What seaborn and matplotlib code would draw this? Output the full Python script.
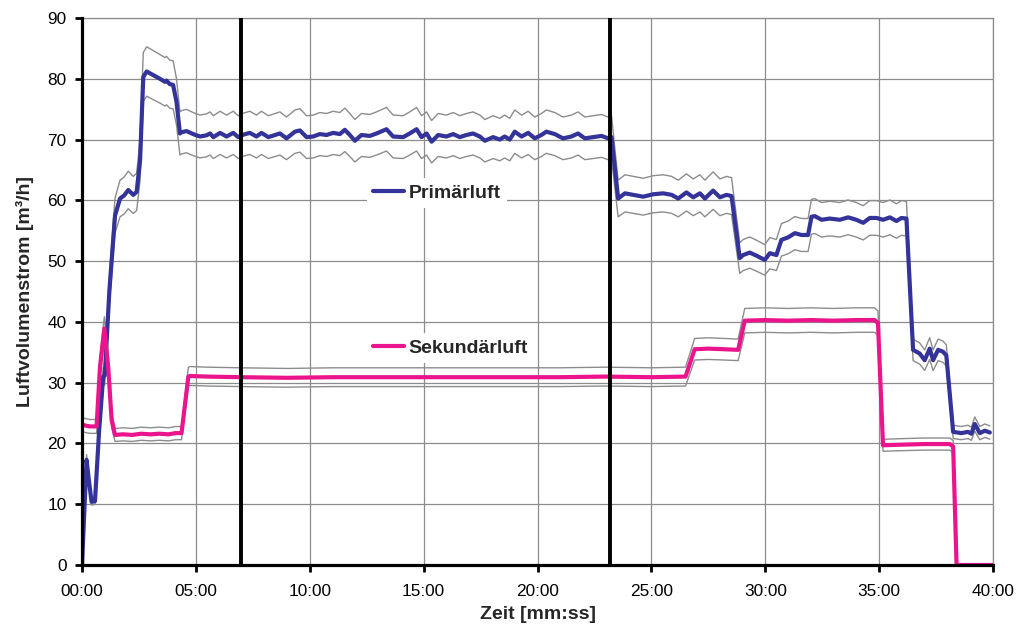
import matplotlib
matplotlib.use('Agg')
import matplotlib.pyplot as plt
import seaborn as sns
import pandas as pd

# ---------------- data (minutes, m³/h) ----------------
prim_t = [0.0, 0.2, 0.3, 0.42, 0.57, 0.75, 0.93, 1.0, 1.2, 1.45, 1.67, 1.85, 2.03, 2.25, 2.4, 2.55,
          2.69, 2.84, 3.13, 3.42, 3.64, 3.71, 3.86, 4.0, 4.15, 4.3, 4.37, 4.59, 4.88, 5.18, 5.47,
          5.62, 5.77, 6.06, 6.35, 6.64, 6.86, 7.08, 7.37, 7.66, 7.88, 8.18, 8.69, 8.98, 9.35, 9.57,
          9.86, 10.15, 10.44, 10.74, 11.03, 11.32, 11.54, 11.76, 11.98, 12.27, 12.64, 12.93, 13.37,
          13.66, 14.1, 14.39, 14.69, 14.91, 15.13, 15.35, 15.64, 16.0, 16.3, 16.59, 16.88, 17.17,
          17.47, 17.69, 18.05, 18.34, 18.56, 18.78, 19.0, 19.3, 19.59, 19.88, 20.17, 20.39, 20.76,
          21.12, 21.49, 21.78, 22.08, 22.44, 22.81, 23.1, 23.25, 23.54, 23.84, 24.2, 24.64, 25.08,
          25.52, 25.89, 26.18, 26.54, 26.84, 27.13, 27.35, 27.71, 28.01, 28.3, 28.52, 28.88, 29.03,
          29.32, 29.61, 29.98, 30.2, 30.49, 30.71, 31.0, 31.3, 31.59, 31.88, 32.03, 32.18, 32.47,
          32.83, 33.27, 33.64, 34.0, 34.3, 34.59, 34.88, 35.18, 35.47, 35.76, 35.98, 36.2, 36.49,
          36.78, 37.0, 37.22, 37.37, 37.59, 37.8, 37.95, 38.25, 38.61, 38.9, 39.05, 39.2, 39.42,
          39.64, 39.86]
prim_v = [0.0, 17.3, 14.0, 10.4, 10.5, 22.0, 31.0, 31.2, 45.0, 57.5, 60.3, 60.8, 61.7, 60.9, 61.4, 66.6,
          80.3, 81.2, 80.6, 80.0, 79.5, 79.7, 79.1, 79.0, 76.2, 71.0, 71.2, 71.4, 70.9, 70.5, 70.7,
          71.0, 70.4, 71.1, 70.5, 71.1, 70.4, 70.8, 71.1, 70.5, 71.1, 70.4, 71.0, 70.2, 71.3, 71.5,
          70.4, 70.5, 70.9, 70.75, 71.1, 70.9, 71.6, 70.75, 69.8, 70.75, 70.6, 71.0, 71.7,
          70.5, 70.4, 71.0, 71.7, 70.4, 71.0, 69.65, 70.75, 70.5, 70.9, 70.4, 70.75, 71.0,
          70.5, 69.8, 70.4, 70.0, 70.5, 70.0, 71.3, 70.5, 71.1, 70.2, 70.75, 71.3, 70.9,
          70.2, 70.5, 71.0, 70.2, 70.4, 70.6, 70.2, 70.4, 60.3, 61.15, 60.9, 60.6, 61.0,
          61.15, 60.9, 60.3, 61.3, 60.5, 61.15, 60.3, 61.6, 60.5, 60.9, 60.7, 50.5, 51.0,
          51.4, 50.9, 50.2, 51.3, 51.0, 53.5, 53.9, 54.6, 54.3, 54.3, 57.3, 57.4, 56.8,
          57.0, 56.8, 57.2, 56.8, 56.3, 57.1, 57.1, 56.8, 57.2, 56.6, 57.1, 57.0, 35.4,
          34.8, 33.7, 35.6, 33.7, 35.4, 35.1, 34.5, 21.9, 21.7, 21.9, 21.6, 23.2, 21.7,
          22.1, 21.8]

sek_t = [0.0, 0.2, 0.35, 0.64, 0.79, 0.98, 1.15, 1.3, 1.45, 1.8, 2.2, 2.6, 3.0, 3.4, 3.8, 4.1, 4.37,
         4.67, 4.74, 5.5, 7.0, 9.0, 11.0, 13.0, 15.0, 17.0, 19.0, 21.0, 23.0, 25.0, 26.5, 26.9,
         27.5, 28.2, 28.81, 29.1, 30.0, 31.0, 32.0, 33.0, 34.0, 34.8, 34.95, 35.17, 36.0, 37.0,
         38.1, 38.25, 38.4, 40.0]
sek_v = [23.1, 22.9, 22.8, 22.8, 32.6, 38.9, 32.6, 23.9, 21.4, 21.5, 21.4, 21.6, 21.5, 21.6, 21.5, 21.7, 21.7,
         31.0, 31.1, 31.0, 30.9, 30.8, 30.9, 30.9, 30.9, 30.9, 30.9, 30.9, 31.0, 30.9, 31.0, 35.5,
         35.6, 35.5, 35.4, 40.2, 40.3, 40.2, 40.3, 40.2, 40.3, 40.3, 39.8, 19.7, 19.8, 19.9,
         19.9, 19.5, 0.0, 0.0]

band_tol = 0.05            # tolerance band (± 5 %)
marker_times = [7.0, 23.2]  # vertical markers
x_ticks = [0, 5, 10, 15, 20, 25, 30, 35, 40]
x_tick_labels = ['00:00', '05:00', '10:00', '15:00', '20:00', '25:00', '30:00', '35:00', '40:00']
y_ticks = [0, 10, 20, 30, 40, 50, 60, 70, 80, 90]
series_names = ['Primärluft', 'Sekundärluft']

# ---------------- style ----------------
sns.set_style('white')
plt.rcParams['font.family'] = ['Liberation Sans', 'DejaVu Sans']

W, H = 1016, 633
fig = plt.figure(figsize=(W / 100, H / 100), dpi=100)
ax = fig.add_axes([82 / W, 1 - 565 / H, (993 - 82) / W, (565 - 18) / H])

prim = pd.DataFrame({'t': prim_t, 'v': prim_v})
sek = pd.DataFrame({'t': sek_t, 'v': sek_v})

band_color = '#8c8c8c'
for df in (prim, sek):
    for f in (1 + band_tol, 1 - band_tol):
        bd = pd.DataFrame({'t': df['t'], 'v': df['v'] * f})
        sns.lineplot(data=bd, x='t', y='v', ax=ax, color=band_color, lw=1.0,
                     estimator=None, sort=False, zorder=2)

sns.lineplot(data=prim, x='t', y='v', ax=ax, color='#333399', lw=3.0,
             estimator=None, sort=False, zorder=3, label=series_names[0])
sns.lineplot(data=sek, x='t', y='v', ax=ax, color='#EC148C', lw=3.0,
             estimator=None, sort=False, zorder=4, label=series_names[1])

for mt in marker_times:
    ax.axvline(mt, color='black', lw=2.8, zorder=5)

ax.set_xlim(0, 40)
ax.set_ylim(0, 90)
ax.set_xticks(x_ticks)
ax.set_xticklabels(x_tick_labels)
ax.set_yticks(y_ticks)

ax.set_axisbelow(True)
ax.grid(True, color='#8c8c8c', lw=0.9)

for s in ('left', 'bottom'):
    ax.spines[s].set_color('black')
    ax.spines[s].set_linewidth(2.3)
    ax.spines[s].set_zorder(6)
for s in ('top', 'right'):
    ax.spines[s].set_color('#8c8c8c')
    ax.spines[s].set_linewidth(0.9)

ax.tick_params(axis='both', which='major', bottom=True, left=True, direction='out',
               length=5, width=2, color='black', labelsize=12.4, labelcolor='black')
ax.tick_params(axis='x', pad=9)
ax.tick_params(axis='y', pad=6)

ax.set_xlabel('Zeit [mm:ss]', fontsize=14, fontweight='bold', labelpad=5)
ax.set_ylabel('Luftvolumenstrom [m³/h]', fontsize=14, fontweight='bold', labelpad=10)

handles, labels = ax.get_legend_handles_labels()
ax.get_legend().remove()
common = dict(loc='center left', frameon=True, facecolor='white', edgecolor='none',
              framealpha=1, fancybox=False, prop={'weight': 'bold', 'size': 14},
              handlelength=1.6, handletextpad=0.25, borderpad=0.3, borderaxespad=0)
leg1 = ax.legend([handles[0]], [labels[0]], bbox_to_anchor=(0.3128, 0.680), **common)
leg1.set_zorder(7)
ax.add_artist(leg1)
leg2 = ax.legend([handles[1]], [labels[1]], bbox_to_anchor=(0.3128, 0.3967), **common)
leg2.set_zorder(7)

fig.savefig('out.png', dpi=100)
